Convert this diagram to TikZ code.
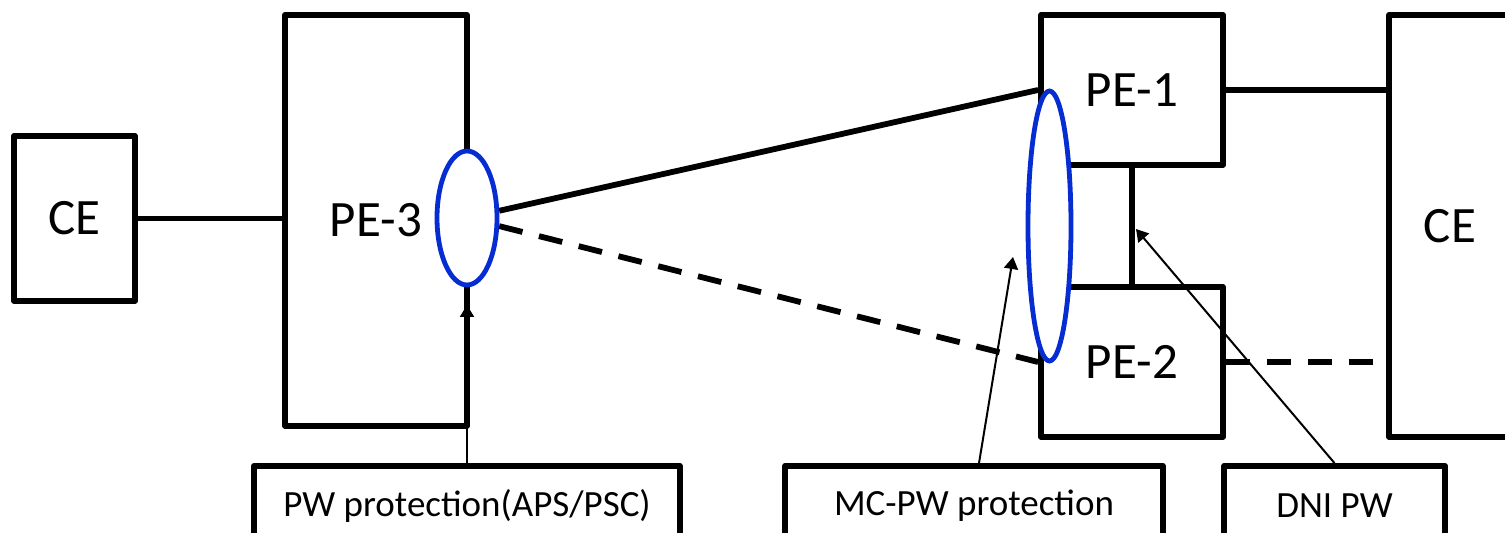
\documentclass[tikz,border=0pt]{standalone}
\usepackage{fontspec}
\setmainfont{Carlito}
\usetikzlibrary{arrows.meta,calc,shapes.geometric}
\definecolor{ovalblue}{RGB}{5,45,210}
\begin{document}
\begin{tikzpicture}[x=0.5pt,y=-0.5pt,
  box/.style={draw,line width=2.9pt,line join=round,inner sep=0pt,font=\fontsize{25.5}{30}\selectfont},
  lab/.style={draw,line width=2.9pt,line join=round,inner sep=0pt,minimum height=40pt,font=\fontsize{18.5}{22}\selectfont,fill=white},
  oval/.style={ellipse,draw=ovalblue,fill=white,line width=2.4pt,inner sep=0pt},
  link/.style={line width=2.9pt},
  dlink/.style={line width=2.9pt,dash pattern=on 12pt off 8.5pt},
  pointer/.style={line width=1pt,-{Triangle[length=6pt,width=7pt]}}]
\useasboundingbox (0,0) rectangle (1505,533);
\clip (0,0) rectangle (1505,533);
% boxes
\node[box,minimum width=60.5pt,minimum height=82.5pt] (ceL) at (74.5,218.5) {CE};
\node[box,minimum width=91pt,minimum height=205.5pt] (pe3) at (376,220.5) {PE-3};
\node[box,minimum width=91pt,minimum height=75pt] (pe1) at (1132,90) {PE-1};
\node[box,minimum width=91pt,minimum height=75pt] (pe2) at (1132,362) {PE-2};
\node[box,minimum width=61pt,minimum height=211pt] (ceR) at (1450,226) {CE};
% protection ovals
\node[oval,minimum width=30pt,minimum height=67pt] (ov3) at (467,218) {};
\node[oval,minimum width=21.5pt,minimum height=135pt] (ovB) at (1049.5,226) {};
% connectors
\draw[link] (ceL.east) -- (ceL.east -| pe3.west);
\draw[link] (ov3) -- (pe1.west);
\draw[dlink] (ov3) -- (pe2.west);
\draw[link] (pe1.south) -- (pe2.north);
\draw[link] (pe1.east) -- (pe1.east -| ceR.west);
\draw[dlink] (pe2.east) -- (pe2.east -| ceR.west);
% labels
\node[lab,minimum width=213pt] (l1) at (467,506) {PW protection(APS/PSC)};
\node[lab,minimum width=189pt] (l2) at (974,506) {MC-PW protection};
\node[lab,minimum width=110.5pt] (l3) at (1334.5,506) {DNI PW};
\coordinate (t1) at (467,305);
\coordinate (t2) at (1013,257);
\coordinate (t3) at (1136,229);
\draw[pointer] (l1.north) -- (t1);
\draw[pointer] ($(l2.north)+(5,0)$) -- (t2);
\draw[pointer] (l3.north) -- (t3);
\end{tikzpicture}
\end{document}
